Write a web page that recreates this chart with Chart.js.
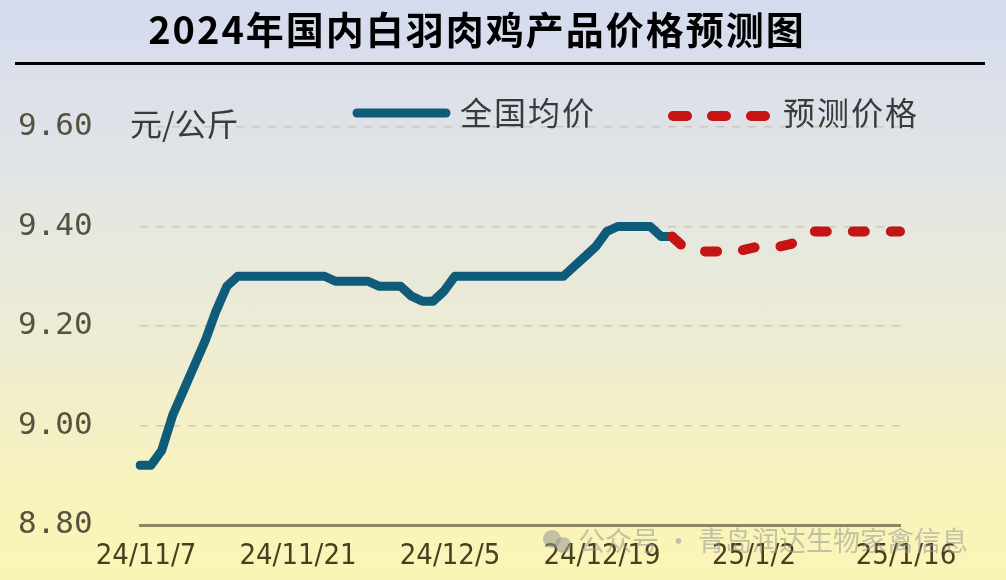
<!DOCTYPE html>
<html>
<head>
<meta charset="utf-8">
<script src="https://cdn.jsdelivr.net/npm/chart.js@4"></script>
<style>
  html, body { margin: 0; padding: 0; }
  body {
    width: 1006px; height: 580px; overflow: hidden;
    background: linear-gradient(to bottom, #d4dbee 0%, #e2e5e6 30%, #eeecd2 60%, #f8f3bc 85%, #fbf5b4 100%);
  }
  #wrap { position: relative; width: 1006px; height: 580px; }
</style>
</head>
<body>
<div id="wrap"><canvas id="myChart"></canvas></div>
<script>
// daily categories 24/11/7 .. 25/1/16
const dayLabels = [];
for (let i = 0; i <= 70; i++) {
  const d = new Date(2024, 10, 7 + i);
  dayLabels.push(String(d.getFullYear()).slice(2) + '/' + (d.getMonth() + 1) + '/' + d.getDate());
}

// 全国均价, 24/11/7 .. 24/12/26
const actualPrice = [
  8.92, 8.92, 8.95, 9.02, 9.07, 9.12, 9.17, 9.23, 9.28, 9.30,
  9.30, 9.30, 9.30, 9.30, 9.30, 9.30, 9.30, 9.30,
  9.29, 9.29, 9.29, 9.29,
  9.28, 9.28, 9.28,
  9.26, 9.25, 9.25, 9.27,
  9.30, 9.30, 9.30, 9.30, 9.30, 9.30, 9.30, 9.30, 9.30, 9.30, 9.30,
  9.32, 9.34, 9.36, 9.39,
  9.40, 9.40, 9.40, 9.40,
  9.38, 9.38
];

// 预测价格, 24/12/26 .. 25/1/16
const forecastStart = 49;
const forecastPrice = [
  9.38, 9.36, 9.35, 9.35, 9.35, 9.35, 9.35, 9.355,
  9.36, 9.36, 9.36, 9.365, 9.38,
  9.39, 9.39, 9.39, 9.39, 9.39, 9.39, 9.39, 9.39, 9.39
];

const yTicks = [8.80, 9.00, 9.20, 9.40, 9.60];

const blue = '#0e5c7a';
const red = '#c41414';

const forecastData = dayLabels.map((_, i) => i < forecastStart ? null : forecastPrice[i - forecastStart]);

const decor = {
  id: 'decor',
  afterDraw(chart) {
    const c = chart.ctx;
    c.save();
    // title
    c.fillStyle = '#000';
    c.font = 'bold 38px "Noto Sans CJK SC"';
    c.letterSpacing = '2px';
    c.textAlign = 'center';
    c.textBaseline = 'middle';
    c.fillText('2024年国内白羽肉鸡产品价格预测图', 477, 30);
    c.letterSpacing = '0px';
    c.fillRect(15, 62, 970, 3);

    // unit
    c.textAlign = 'left';
    c.fillStyle = '#3a3a3a';
    c.font = '32px "Noto Sans CJK SC"';
    c.fillText('元/公斤', 130, 124);

    // legend
    c.lineCap = 'round';
    c.strokeStyle = blue;
    c.lineWidth = 9;
    c.beginPath(); c.moveTo(357, 113); c.lineTo(446, 113); c.stroke();
    c.letterSpacing = '2px';
    c.font = '32px "Noto Sans CJK SC"';
    c.fillText('全国均价', 460, 113);
    c.strokeStyle = red;
    c.lineWidth = 10;
    c.setLineDash([14, 25]);
    c.beginPath(); c.moveTo(673, 116); c.lineTo(765, 116); c.stroke();
    c.setLineDash([]);
    c.fillText('预测价格', 783, 113);
    c.letterSpacing = '0px';

    // watermark
    c.fillStyle = 'rgba(150,150,150,0.55)';
    c.beginPath(); c.arc(552, 539, 9, 0, Math.PI * 2); c.fill();
    c.beginPath(); c.arc(563, 545, 8, 0, Math.PI * 2); c.fill();
    c.font = '27px "Noto Sans CJK SC"';
    c.fillText('公众号 · 青岛润达生物家禽信息', 578, 541);
    c.restore();
  }
};

new Chart(document.getElementById('myChart'), {
  type: 'line',
  data: {
    labels: dayLabels,
    datasets: [
      {
        label: '全国均价',
        data: actualPrice,
        borderColor: blue,
        borderWidth: 9,
        borderJoinStyle: 'round',
        borderCapStyle: 'round',
        pointRadius: 0,
        tension: 0,
        order: 2,
      },
      {
        label: '预测价格',
        data: forecastData,
        borderColor: red,
        borderWidth: 10,
        borderDash: [12, 26],
        borderCapStyle: 'round',
        borderJoinStyle: 'round',
        pointRadius: 0,
        tension: 0,
        order: 1,
      },
    ],
  },
  options: {
    responsive: true,
    maintainAspectRatio: false,
    animation: false,
    layout: { padding: { top: 127, right: 106, left: 18, bottom: 0 } },
    plugins: {
      legend: { display: false },
      tooltip: { enabled: false },
    },
    scales: {
      x: {
        grid: { display: false },
        border: { display: true, color: '#8a8860', width: 3 },
        ticks: {
          autoSkip: false,
          maxRotation: 0,
          padding: 6,
          labelOffset: 6,
          color: '#45401f',
          font: { family: '"DejaVu Sans Condensed", sans-serif', size: 29 },
          callback: (v, i) => (i % 14 === 0 ? dayLabels[i] : null),
        },
        afterFit: (s) => { s.height = 55; },
      },
      y: {
        min: yTicks[0],
        max: yTicks[yTicks.length - 1],
        afterBuildTicks: (s) => { s.ticks = yTicks.map((v) => ({ value: v })); },
        border: { display: false, dash: [8, 8] },
        grid: { color: '#cbc9b8', lineWidth: 1.5, drawTicks: false },
        ticks: {
          padding: 4,
          crossAlign: 'far',
          color: '#55533f',
          font: { family: '"DejaVu Sans Mono", monospace', size: 31 },
          callback: (v) => v.toFixed(2),
        },
        afterFit: (s) => { s.width = 122; },
      },
    },
  },
  plugins: [decor],
});
</script>
</body>
</html>
